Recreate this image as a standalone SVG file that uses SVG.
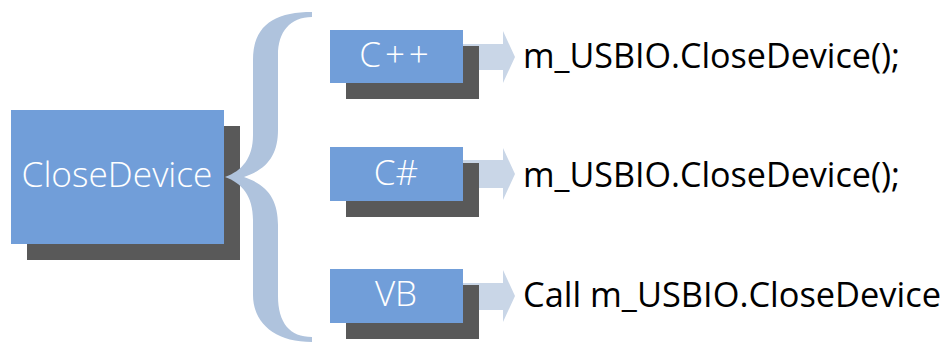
<svg xmlns="http://www.w3.org/2000/svg" width="947" height="343" viewBox="0 0 947 343">
<style>
.shadow{fill:#595959}
.box{fill:#719ED9}
.arrow{fill:#C9D6E7}
.brace{fill:#AFC3DD}
.lbl{font-family:"Segoe UI","Open Sans","Noto Sans",sans-serif;font-size:35px;font-weight:300;fill:#FFFFFF;text-anchor:middle}
.code{font-family:"Segoe UI","Open Sans","Noto Sans",sans-serif;font-size:35px;fill:#000000}
</style>
<rect width="947" height="343" fill="#FFFFFF"/>
<g id="node-closedevice">
<rect class="shadow" x="27" y="126" width="213" height="134"/>
<rect class="box" x="11" y="110" width="213" height="134"/>
<text class="lbl" x="117" y="187" textLength="191" lengthAdjust="spacingAndGlyphs">CloseDevice</text>
</g>
<g id="brace">
<path class="brace" d="M312,12 C275,12 253,25 253,60 L253,135 C253,158 242,171 225,177 C242,183 253,196 253,220 L253,295 C253,323 275,342 312,342 L312,337 C290,337 278,323 278,296 L278,225 C278,200 268,185 244,177 C268,169 278,154 278,130 L278,55 C278,32 290,17 312,17 Z"/>
</g>
<g id="connectors">
<path class="arrow" d="M455,44 L503,44 L503,31 L515,57 L503,83 L503,70 L455,70 Z"/>
<path class="arrow" d="M455,160 L503,160 L503,148 L515,174 L503,200 L503,188 L455,188 Z"/>
<path class="arrow" d="M455,283 L503,283 L503,270 L515,296 L503,322 L503,310 L455,310 Z"/>
</g>
<g id="node-cpp">
<rect class="shadow" x="346" y="46" width="133" height="53"/>
<rect class="box" x="330" y="30" width="133" height="53"/>
<text class="lbl" x="396" y="67" letter-spacing="4">C++</text>
</g>
<g id="node-cs">
<rect class="shadow" x="346" y="163" width="133" height="54"/>
<rect class="box" x="330" y="147" width="133" height="54"/>
<text class="lbl" x="396" y="185">C#</text>
</g>
<g id="node-vb">
<rect class="shadow" x="346" y="285" width="133" height="54"/>
<rect class="box" x="330" y="269" width="133" height="54"/>
<text class="lbl" x="396" y="306">VB</text>
</g>
<g id="code-texts">
<text class="code" x="523" y="68" textLength="377" lengthAdjust="spacingAndGlyphs">m_USBIO.CloseDevice();</text>
<text class="code" x="523" y="187" textLength="377" lengthAdjust="spacingAndGlyphs">m_USBIO.CloseDevice();</text>
<text class="code" x="523" y="307" textLength="418" lengthAdjust="spacingAndGlyphs">Call m_USBIO.CloseDevice</text>
</g>
</svg>
